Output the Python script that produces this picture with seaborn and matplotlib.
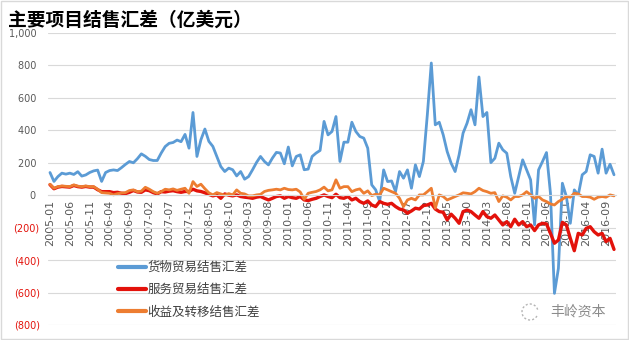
import numpy as np
import pandas as pd
import matplotlib
matplotlib.use('Agg')
import matplotlib.pyplot as plt
import seaborn as sns
from matplotlib.patches import Rectangle, Arc

# ---------------- data ----------------
months = pd.period_range('2005-01', '2016-11', freq='M').strftime('%Y-%m').tolist()

goods = [
    140, 85, 115, 136, 130, 136, 128, 145, 118, 125,
    140, 150, 155, 85, 140, 152, 156, 152, 170, 190,
    208, 200, 225, 255, 240, 220, 214, 214, 260, 300,
    320, 325, 340, 330, 375, 290, 510, 239, 342, 408,
    332, 301, 239, 177, 146, 167, 157, 119, 146, 99,
    115, 157, 202, 239, 208, 187, 229, 264, 260, 194,
    297, 181, 239, 249, 157, 161, 239, 260, 276, 455,
    372, 393, 485, 208, 327, 327, 450, 393, 362, 352,
    290, 64, 33, -39, 156, 84, 88, 23, 146, 105,
    156, 43, 187, 115, 208, 496, 815, 434, 450, 372,
    269, 197, 146, 249, 383, 444, 527, 434, 729, 485,
    510, 201, 228, 321, 280, 259, 115, 12, 115, 218,
    156, 95, -183, 156, 208, 263, 12, -605, -451, 74,
    -8, -173, 33, 2, 126, 146, 249, 239, 136, 284,
    136, 191, 126,
]

services = [
    65, 40, 50, 54, 52, 50, 60, 53, 50, 54,
    50, 50, 34, 22, 22, 22, 16, 18, 12, 10,
    18, 29, 20, 18, 33, 28, 16, 8, 22, 20,
    25, 28, 22, 18, 23, 23, 37, 27, 23, 15,
    5, -4, 2, -19, 8, 0, -4, 2, -8, -12,
    -15, -19, -12, -8, -19, -29, -19, -8, -4, -19,
    -8, -15, -19, -8, -29, -33, -25, -19, -8, 2,
    -8, -15, 6, -15, -19, -8, -29, -19, -39, -50,
    -35, -60, -70, -39, -50, -56, -50, -70, -85, -91,
    -111, -97, -80, -85, -64, -60, -50, -85, -101, -105,
    -152, -117, -142, -173, -101, -91, -101, -122, -142, -101,
    -132, -142, -122, -152, -183, -163, -194, -148, -183, -163,
    -194, -183, -218, -183, -173, -177, -235, -296, -276, -167,
    -183, -266, -342, -235, -245, -204, -194, -225, -245, -235,
    -286, -266, -334,
]

income = [
    68, 43, 53, 57, 55, 53, 64, 56, 53, 57,
    53, 53, 37, 16, 14, 12, 2, 10, 14, 16,
    29, 33, 22, 25, 49, 37, 22, 12, 22, 37,
    33, 39, 30, 37, 43, 12, 84, 54, 68, 40,
    15, 2, 16, 8, 0, 10, 2, 33, 12, 8,
    -4, -4, 2, 5, 23, 30, 33, 37, 33, 43,
    35, 33, 37, 20, -25, 12, 18, 23, 33, 50,
    27, 33, 95, 43, 53, 53, 22, 33, 39, 12,
    27, -2, 6, 2, 43, 33, 22, 12, -19, -70,
    -29, -19, -29, 2, 2, 22, 43, -80, 2, -8,
    -29, -19, -8, 2, 15, 12, 8, 22, 43, 29,
    22, 12, 16, -39, -4, -12, -29, -8, -8, 2,
    22, 2, -19, -8, -29, -39, -54, -60, -39, -25,
    -8, -12, 12, 8, -8, -8, -12, -25, -12, -8,
    -12, 2, -4,
]

series_names = ['货物贸易结售汇差', '服务贸易结售汇差', '收益及转移结售汇差']
series_colors = ['#5B9BD5', '#E3120B', '#ED7D31']
series_widths = [2.0, 2.4, 2.0]
title_text = '主要项目结售汇差（亿美元）'
y_ticks = [-800, -600, -400, -200, 0, 200, 400, 600, 800, 1000]
x_tick_step = 5
watermark = '丰岭资本'

# ---------------- plot ----------------
sns.set_style('white')
plt.rcParams['font.family'] = ['DejaVu Sans', 'Noto Sans CJK SC']
CJK = ['Noto Sans CJK SC', 'DejaVu Sans']

W, H = 629, 340
fig = plt.figure(figsize=(W / 100, H / 100), dpi=100)
ax = fig.add_axes([48 / W, 1 - 325 / H, 568 / W, 292 / H])

n = len(months)
frames = []
for name, vals in zip(series_names, [goods, services, income]):
    frames.append(pd.DataFrame({'idx': np.arange(n), 'value': vals, 'series': name}))
df = pd.concat(frames, ignore_index=True)

for name, color, lw in zip(series_names, series_colors, series_widths):
    sub = df[df['series'] == name]
    sns.lineplot(data=sub, x='idx', y='value', ax=ax, color=color,
                 linewidth=lw, label=name, solid_joinstyle='round')

ax.set_xlim(-0.5, n - 0.5)
ax.set_ylim(y_ticks[0], y_ticks[-1])
ax.set_xlabel('')
ax.set_ylabel('')

# gridlines
ax.set_axisbelow(True)
ax.yaxis.grid(True, color='#d9d9d9', linewidth=0.8)
ax.xaxis.grid(False)

# spines
for s in ['top', 'right', 'left']:
    ax.spines[s].set_visible(False)
ax.spines['bottom'].set_position(('data', 0))
ax.spines['bottom'].set_color('#d9d9d9')
ax.spines['bottom'].set_linewidth(0.8)

# y ticks
ax.set_yticks(y_ticks)
ylabels = [f'({abs(v):,})' if v < 0 else f'{v:,} ' for v in y_ticks]
ax.set_yticklabels(ylabels, fontsize=7)
for lab, v in zip(ax.get_yticklabels(), y_ticks):
    lab.set_color('#E3120B' if v < 0 else '#595959')
ax.tick_params(axis='y', length=0, pad=6)

# x ticks
xt = list(range(0, n, x_tick_step))
ax.set_xticks(xt)
ax.set_xticklabels([months[i] for i in xt], rotation=90, fontsize=8, color='#595959')
ax.tick_params(axis='x', length=0, pad=3)

# title
fig.text(8 / W, 1 - 20 / H, title_text, fontsize=13.5, fontweight='bold',
         family=CJK, ha='left', va='center', color='#000000')

# legend
leg = ax.legend(loc='upper left', bbox_to_anchor=(118 / W, 1 - 261 / H),
                bbox_transform=fig.transFigure, frameon=False,
                prop={'family': CJK, 'size': 9}, handlelength=2.2,
                handletextpad=0.15, labelspacing=0.75, borderpad=0,
                borderaxespad=0)
for t in leg.get_texts():
    t.set_color('#404040')
for h in leg.get_lines():
    h.set_linewidth(3.0)

# watermark (icon + text)
fig.patches.append(Arc((530 / W, 1 - 312 / H), 16 / W, 16 / H, theta1=30, theta2=330,
                       transform=fig.transFigure, color='#b5b5b5', linewidth=1.0,
                       linestyle=(0, (1.5, 1.5))))
fig.text(550 / W, 1 - 312 / H, watermark, fontsize=10, family=CJK,
         ha='left', va='center', color='#8c8c8c')

# chart border
fig.patches.append(Rectangle((0.001, 0.002), 0.997, 0.996, transform=fig.transFigure,
                             fill=False, edgecolor='#d9d9d9', linewidth=1))

fig.savefig('out.png', dpi=100)
